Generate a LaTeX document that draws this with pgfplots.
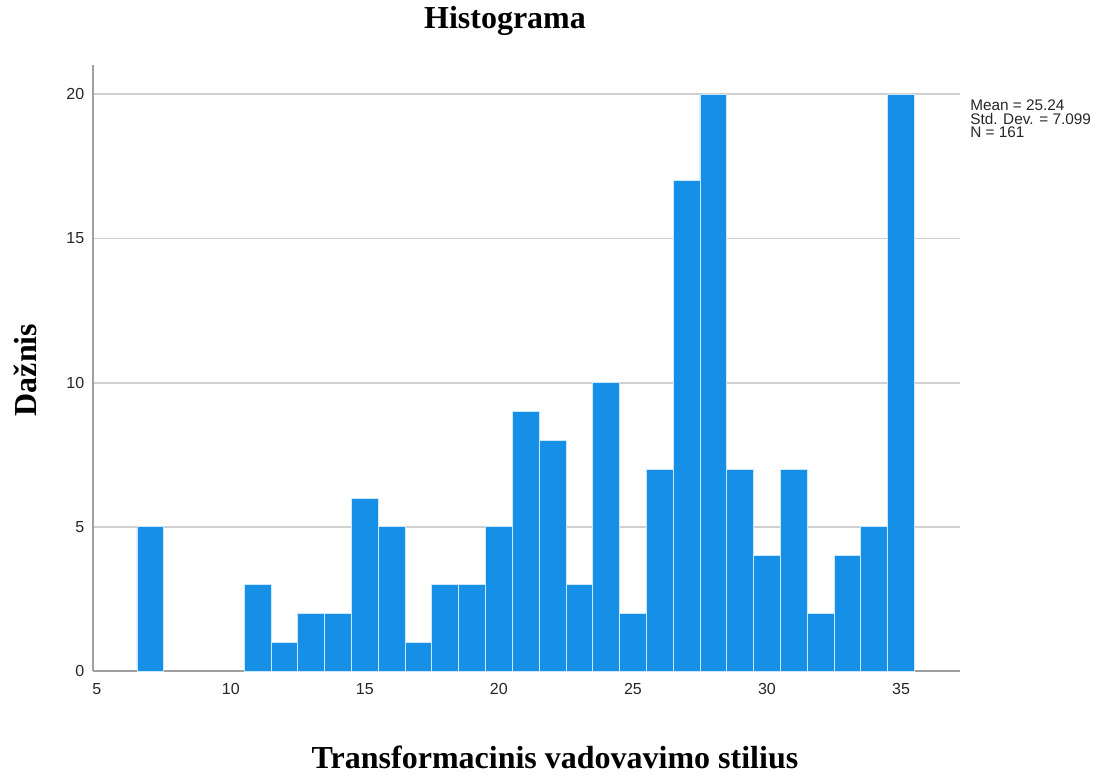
\documentclass[border=0pt]{standalone}
\usepackage{fontspec}
\setmainfont{Liberation Serif}
\setsansfont{Liberation Sans}
\usepackage{pgfplots}
\pgfplotsset{compat=1.18}
\definecolor{barblue}{RGB}{21,144,230}
\definecolor{baredge}{RGB}{205,232,252}
\definecolor{axgray}{RGB}{160,160,160}
\definecolor{gridgray}{RGB}{208,208,208}
\begin{document}
\begin{tikzpicture}[x=0.75pt,y=0.75pt]
\useasboundingbox (-93,-105) rectangle (1009,671);
\begin{axis}[
  at={(0,0)}, anchor=south west,
  scale only axis,
  width=650.25pt, height=454.5pt,
  xmin=4.86, xmax=37.2,
  ymin=0, ymax=21.02,
  axis x line*=bottom, axis y line*=left,
  axis line style={axgray, line width=1.5pt, -},
  xtick={5,10,15,20,25,30,35},
  ytick={0,5,10,15,20},
  major tick length=0pt,
  ymajorgrids,
  grid style={gridgray, line width=1.4pt},
  ticklabel style={font=\sffamily\fontsize{12}{14}\selectfont, text=black!85},
  /pgf/number format/assume math mode=true,
  xticklabel style={yshift=-6pt},
  yticklabel style={xshift=-3pt},
]
\addplot[ybar, bar width=1, bar shift=0, fill=barblue, draw=baredge, line width=0.6pt]
coordinates {
(7,5)
(11,3)(12,1)(13,2)(14,2)(15,6)(16,5)(17,1)(18,3)(19,3)(20,5)
(21,9)(22,8)(23,3)(24,10)(25,2)(26,7)(27,17)(28,20)(29,7)(30,4)
(31,7)(32,2)(33,4)(34,5)(35,20)
};
\end{axis}
\node[anchor=base, font=\bfseries\fontsize{24}{28}\selectfont] at (412,642) {Histograma};
\node[anchor=base, font=\bfseries\fontsize{24}{28}\selectfont] at (462,-97) {Transformacinis vadovavimo stilius};
\node[rotate=90, anchor=center, font=\bfseries\fontsize{24}{28}\selectfont] at (-68,301) {Dažnis};
\node[anchor=north west, align=left, inner sep=0pt, font=\sffamily\fontsize{11.5}{10}\selectfont, text=black!85] at (877,571) {Mean = 25.24\\Std. Dev. = 7.099\\N = 161};
\end{tikzpicture}
\end{document}
